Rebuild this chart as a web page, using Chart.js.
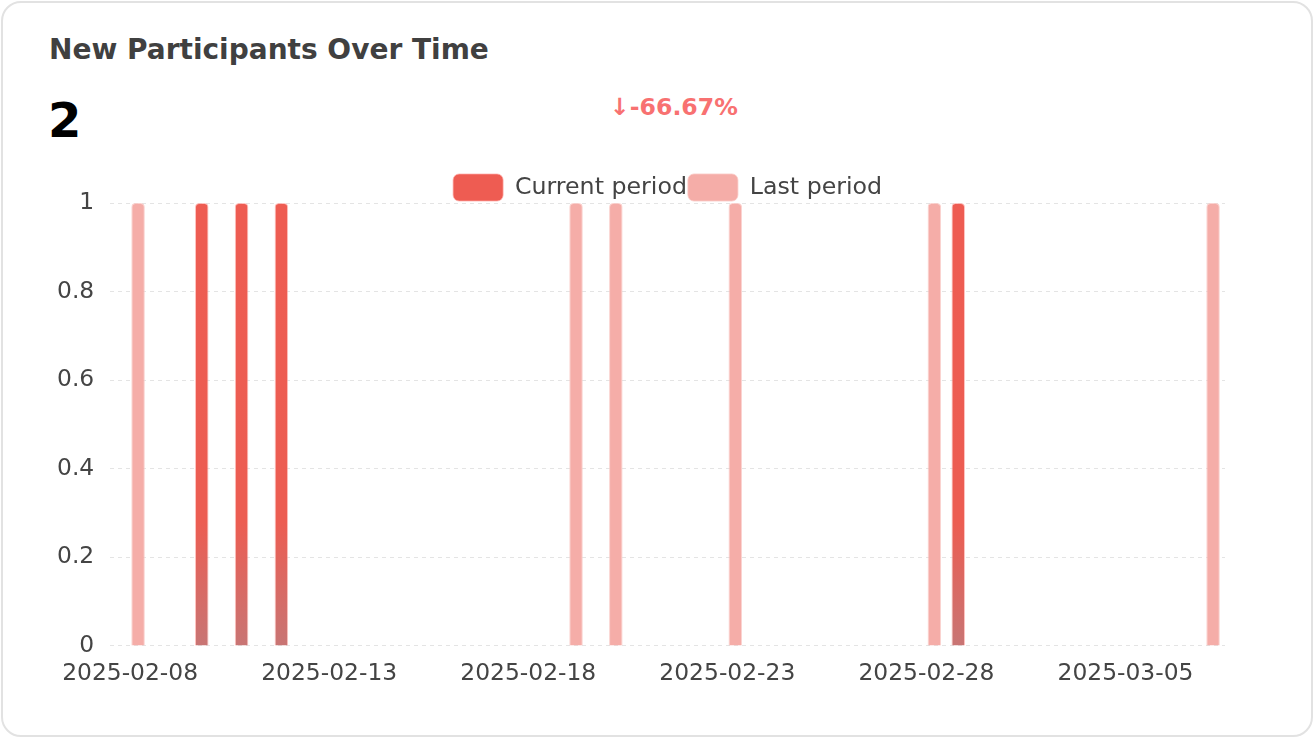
<!DOCTYPE html>
<html>
<head>
<meta charset="utf-8">
<script src="https://cdn.jsdelivr.net/npm/chart.js@4"></script>
<style>
    body { margin: 0; background: #fff; font-family: "DejaVu Sans", sans-serif; }
    .card {
        position: absolute; left: 1px; top: 1px; width: 1312px; height: 736px;
        box-sizing: border-box; border: 2px solid #e2e2e2; border-radius: 20px; background: #fff;
    }
    .title { position: absolute; left: 46px; top: 33px; font-size: 28px; font-weight: bold; color: #404040; line-height: 1; }
    .total { position: absolute; left: 45px; top: 93px; font-size: 48px; font-weight: bold; color: #000; line-height: 1; }
    .change { position: absolute; left: 607px; top: 93px; font-size: 23.6px; font-weight: bold; color: #f87171; line-height: 1; }
    .chart-box { position: absolute; left: 38px; top: 162px; width: 1234px; height: 529px; }
</style>
</head>
<body>
<div class="card">
    <div class="title">New Participants Over Time</div>
    <div class="total">2</div>
    <div class="change">↓-66.67%</div>
    <div class="chart-box"><canvas id="chart"></canvas></div>
</div>
<script>
const dates = [
    '2025-02-08', '2025-02-09', '2025-02-10', '2025-02-11', '2025-02-12', '2025-02-13', '2025-02-14',
    '2025-02-15', '2025-02-16', '2025-02-17', '2025-02-18', '2025-02-19', '2025-02-20', '2025-02-21',
    '2025-02-22', '2025-02-23', '2025-02-24', '2025-02-25', '2025-02-26', '2025-02-27', '2025-02-28',
    '2025-03-01', '2025-03-02', '2025-03-03', '2025-03-04', '2025-03-05', '2025-03-06', '2025-03-07'
];
const currentPeriod = [0, 0, 1, 1, 1, 0, 0, 0, 0, 0, 0, 0, 0, 0, 0, 0, 0, 0, 0, 0, 0, 1, 0, 0, 0, 0, 0, 0];
const lastPeriod    = [1, 0, 0, 0, 0, 0, 0, 0, 0, 0, 0, 1, 1, 0, 0, 1, 0, 0, 0, 0, 1, 0, 0, 0, 0, 0, 0, 1];
const yTicks = [0, 0.2, 0.4, 0.6, 0.8, 1];

const fontSize = 23.4;

// kırmızıdan gri-kırmızıya doğru gradient (alt kısım)
function currentFill(context) {
    const chart = context.chart;
    const area = chart.chartArea;
    if (!area) return '#ee5c52';
    const g = chart.ctx.createLinearGradient(0, area.top, 0, area.bottom);
    g.addColorStop(0, '#ee5c52');
    g.addColorStop(0.72, '#ec5d52');
    g.addColorStop(1, '#c87574');
    return g;
}

// legend'ı grafiğe biraz yaklaştır
const legendNudge = {
    id: 'legendNudge',
    afterLayout(chart) {
        if (chart.legend) {
            chart.legend.top += 8;
            chart.legend.bottom += 8;
        }
    }
};

new Chart(document.getElementById('chart'), {
    type: 'bar',
    data: {
        labels: dates,
        datasets: [
            {
                label: 'Current period',
                data: currentPeriod,
                backgroundColor: currentFill,
                borderColor: 'rgba(255, 170, 165, 0.7)',
                borderWidth: 1,
                borderRadius: 4,
                borderSkipped: 'start',
                categoryPercentage: 0.8,
                barPercentage: 0.85
            },
            {
                label: 'Last period',
                data: lastPeriod,
                backgroundColor: '#f5ada8',
                borderColor: 'rgba(250, 200, 196, 0.8)',
                borderWidth: 1,
                borderRadius: 4,
                borderSkipped: 'start',
                categoryPercentage: 0.8,
                barPercentage: 0.85
            }
        ]
    },
    options: {
        responsive: true,
        maintainAspectRatio: false,
        animation: false,
        layout: { padding: { top: 0, right: 50, bottom: 0, left: 0 } },
        plugins: {
            legend: {
                display: true,
                position: 'top',
                fullSize: false,
                labels: {
                    boxWidth: 50,
                    boxHeight: 27,
                    useBorderRadius: true,
                    borderRadius: 6,
                    padding: 1,
                    color: '#444',
                    font: { family: 'DejaVu Sans', size: 23.7 }
                }
            },
            tooltip: { enabled: false }
        },
        scales: {
            x: {
                grid: { display: false },
                border: { display: false },
                ticks: {
                    autoSkip: false,
                    maxRotation: 0,
                    padding: 6,
                    color: '#444',
                    font: { family: 'DejaVu Sans', size: fontSize },
                    callback: function(value, index) {
                        return index % 5 === 0 ? dates[index] : '';
                    }
                }
            },
            y: {
                min: 0,
                max: 1,
                afterBuildTicks: function(axis) {
                    axis.ticks = yTicks.map(v => ({ value: v }));
                },
                grid: { color: '#e4e4e4', drawTicks: false },
                border: { display: false, dash: [4, 4] },
                ticks: {
                    padding: 16,
                    color: '#444',
                    font: { family: 'DejaVu Sans', size: fontSize },
                    callback: function(value) { return String(value); }
                }
            }
        }
    },
    plugins: [legendNudge]
});
</script>
</body>
</html>
